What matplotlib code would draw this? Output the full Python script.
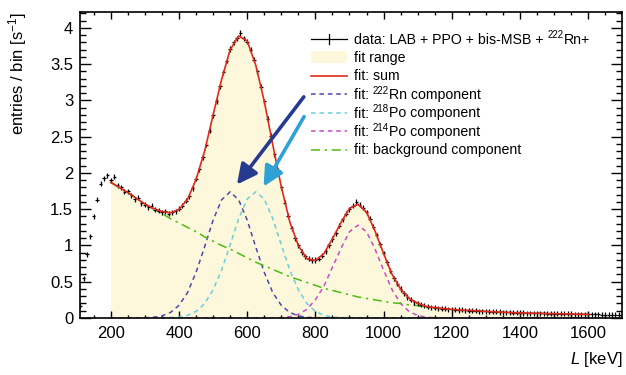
import numpy as np
import matplotlib
matplotlib.use("Agg")
import matplotlib.pyplot as plt
from matplotlib.patches import Rectangle
from matplotlib.lines import Line2D

plt.rcParams['font.family'] = ['Liberation Sans', 'DejaVu Sans']
plt.rcParams['mathtext.fontset'] = 'custom'
plt.rcParams['mathtext.rm'] = 'Liberation Sans'
plt.rcParams['mathtext.it'] = 'Liberation Sans:italic'
plt.rcParams['mathtext.default'] = 'regular'

# measured spectrum, bin centres 110..1700 keV (10 keV bins)
data_kev = np.arange(110, 1701, 10)
data_rate = [0.17, 0.55, 0.88, 1.13, 1.40, 1.63, 1.85, 1.93, 1.97,
             1.90, 1.95, 1.83, 1.80, 1.74, 1.75, 1.69, 1.64, 1.66, 1.58,
             1.56, 1.53, 1.55, 1.49, 1.48, 1.46, 1.47, 1.44, 1.46, 1.47,
             1.51, 1.55, 1.62, 1.68, 1.79, 1.92, 2.05, 2.22, 2.39, 2.58,
             2.80, 2.99, 3.20, 3.39, 3.55, 3.71, 3.80, 3.86, 3.93, 3.86,
             3.81, 3.70, 3.56, 3.40, 3.19, 2.99, 2.75, 2.51, 2.26, 2.04,
             1.80, 1.59, 1.41, 1.24, 1.10, 1.00, 0.91, 0.85, 0.82, 0.80,
             0.80, 0.82, 0.86, 0.92, 1.00, 1.09, 1.17, 1.27, 1.36, 1.44,
             1.50, 1.55, 1.60, 1.56, 1.52, 1.46, 1.37, 1.26, 1.14, 1.02,
             0.89, 0.77, 0.65, 0.55, 0.47, 0.40, 0.34, 0.29, 0.25, 0.22,
             0.20, 0.18, 0.17, 0.155, 0.15, 0.14, 0.135, 0.13, 0.125, 0.12,
             0.12, 0.115, 0.11, 0.112, 0.105, 0.10, 0.10, 0.098, 0.095, 0.092,
             0.09, 0.088, 0.087, 0.085, 0.083, 0.08, 0.078, 0.077, 0.075, 0.072,
             0.07, 0.069, 0.068, 0.067, 0.066, 0.065, 0.064, 0.063, 0.062, 0.061,
             0.06, 0.059, 0.058, 0.057, 0.056, 0.055, 0.054, 0.053, 0.052, 0.051,
             0.05, 0.05, 0.049, 0.049, 0.048, 0.048, 0.047, 0.047, 0.046, 0.046,
             0.045]
data_rate = np.array(data_rate)

# fit components on a 25 keV grid, 200..1600 keV
fit_kev = np.arange(200, 1601, 25)
rn222 = [0, 0, 0, 0, 0.003, 0.010, 0.029, 0.076, 0.175, 0.35, 0.63, 0.98, 1.35,
         1.63, 1.74, 1.63, 1.35, 0.98, 0.63, 0.35, 0.175, 0.076, 0.029, 0.010, 0.003] + [0] * 32
po218 = [0] * 6 + [0.001, 0.004, 0.013, 0.037, 0.091, 0.198, 0.39, 0.66, 1.01, 1.37,
                   1.64, 1.74, 1.64, 1.37, 1.01, 0.66, 0.39, 0.198, 0.091, 0.037,
                   0.013, 0.004, 0.001] + [0] * 28
po214 = [0] * 20 + [0.005, 0.018, 0.05, 0.12, 0.25, 0.44, 0.70, 0.96, 1.19, 1.28,
                    1.19, 0.95, 0.66, 0.39, 0.20, 0.089, 0.034, 0.011, 0.003] + [0] * 18
background = [1.87, 1.80, 1.73, 1.65, 1.57, 1.50, 1.44, 1.37, 1.31, 1.25, 1.19, 1.12,
              1.06, 1.00, 0.95, 0.89, 0.83, 0.77, 0.72, 0.67, 0.62, 0.57, 0.53, 0.49,
              0.45, 0.41, 0.38, 0.35, 0.32, 0.29, 0.27, 0.25, 0.23, 0.21, 0.20, 0.18,
              0.17, 0.15, 0.14, 0.13, 0.12, 0.11, 0.105, 0.10, 0.09, 0.085, 0.08, 0.075,
              0.07, 0.068, 0.065, 0.062, 0.06, 0.057, 0.055, 0.052, 0.05]
fit_sum = np.array(rn222) + np.array(po218) + np.array(po214) + np.array(background)

fit_lo, fit_hi = 200, 1600

# legend texts as (text, superscript?) pieces
legend_labels = [
    [('data: LAB + PPO + bis-MSB + ', False), ('222', True), ('Rn+', False)],
    [('fit range', False)],
    [('fit: sum', False)],
    [('fit: ', False), ('222', True), ('Rn component', False)],
    [('fit: ', False), ('218', True), ('Po component', False)],
    [('fit: ', False), ('214', True), ('Po component', False)],
    [('fit: background component', False)],
]

c_fill = '#fdf7dc'
c_sum = '#e02a1e'
c_rn = '#4a4aa8'
c_po218 = '#6ccfdc'
c_po214 = '#c64cc6'
c_bg = '#4fbb10'
dash = (3, 2.5)
dashdot = (6, 3, 1.5, 3)

W, H = 626, 375
fig = plt.figure(figsize=(W / 100, H / 100), dpi=100)
ax = fig.add_axes([0.128, 0.152, 0.866, 0.816])

sel = (data_kev >= fit_lo) & (data_kev <= fit_hi)
ax.fill_between(data_kev[sel], 0, data_rate[sel], step='mid', color=c_fill, lw=0, zorder=1)

ax.plot(fit_kev, rn222, color=c_rn, lw=1.1, dashes=dash, zorder=2)
ax.plot(fit_kev, po218, color=c_po218, lw=1.1, dashes=dash, zorder=2)
ax.plot(fit_kev, po214, color=c_po214, lw=1.1, dashes=dash, zorder=2)
ax.plot(fit_kev, background, color=c_bg, lw=1.1, dashes=dashdot, zorder=2)

ax.errorbar(data_kev, data_rate, xerr=5, yerr=0.035, fmt='none', ecolor='black',
            elinewidth=0.9, zorder=3)
ax.plot(fit_kev, fit_sum, color=c_sum, lw=1.2, zorder=4)

# arrows pointing at the two overlapping peaks
ax.annotate('', xy=(565, 1.81), xytext=(771, 3.08),
            arrowprops=dict(arrowstyle='-|>,head_length=0.8,head_width=0.4',
                            color='#263a8f', lw=2.6, mutation_scale=15), zorder=5)
ax.annotate('', xy=(644, 1.78), xytext=(771, 2.81),
            arrowprops=dict(arrowstyle='-|>,head_length=0.8,head_width=0.4',
                            color='#2ea2d6', lw=2.6, mutation_scale=15), zorder=5)

ax.set_xlim(110, 1700)
ax.set_ylim(0, 4.22)
ax.set_xticks([200, 400, 600, 800, 1000, 1200, 1400, 1600])
ax.set_xticks(np.arange(150, 1700, 50), minor=True)
ax.set_yticks([0, 0.5, 1, 1.5, 2, 2.5, 3, 3.5, 4])
ax.set_yticklabels(['0', '0.5', '1', '1.5', '2', '2.5', '3', '3.5', '4'])
ax.set_yticks(np.arange(0, 4.21, 0.1), minor=True)
ax.tick_params(which='both', direction='in', top=True, right=True, labelsize=12, width=1)
ax.tick_params(axis='x', which='major', length=5, pad=6)
ax.tick_params(axis='x', which='minor', length=2.5)
ax.tick_params(axis='y', which='major', length=8, pad=5)
ax.tick_params(axis='y', which='minor', length=4)
for s in ax.spines.values():
    s.set_linewidth(1.2)

ax.set_xlabel(r'$\mathit{L}$ [keV]', fontsize=12, loc='right')
ax.xaxis.set_label_coords(1.0, -0.105)
ax.set_ylabel(r'entries / bin [s$^{-1}$]', fontsize=12, loc='top')
ax.yaxis.set_label_coords(-0.095, 1.0)

# legend drawn by hand so that all rows have the same pitch
x0, x1, xt = 311 / W, 347 / W, 354
row0, pitch = 38.5, 18.5
renderer = fig.canvas.get_renderer()


def fy(py):
    return 1 - py / H


for i, parts in enumerate(legend_labels):
    base = row0 + i * pitch + 5
    xp = xt
    for txt, sup in parts:
        if sup:
            t = fig.text(xp / W, fy(base - 5), txt, fontsize=7, va='baseline', ha='left')
        else:
            t = fig.text(xp / W, fy(base), txt, fontsize=10.2, va='baseline', ha='left')
        xp += t.get_window_extent(renderer).width

styles = [None, None,
          dict(color=c_sum, lw=1.2),
          dict(color=c_rn, lw=1.1, dashes=dash),
          dict(color=c_po218, lw=1.1, dashes=dash),
          dict(color=c_po214, lw=1.1, dashes=dash),
          dict(color=c_bg, lw=1.1, dashes=dashdot)]
for i, st in enumerate(styles):
    yc = fy(row0 + i * pitch)
    if i == 0:
        fig.add_artist(Line2D([x0, x1], [yc, yc], color='black', lw=0.9))
        xm = (x0 + x1) / 2
        fig.add_artist(Line2D([xm, xm], [yc - 5 / H, yc + 5 / H], color='black', lw=0.9))
    elif i == 1:
        fig.add_artist(Rectangle((x0, yc - 6 / H), x1 - x0, 12 / H, facecolor=c_fill,
                                 edgecolor='none', transform=fig.transFigure))
    else:
        fig.add_artist(Line2D([x0, x1], [yc, yc], **st))

fig.savefig('out.png', dpi=100)
